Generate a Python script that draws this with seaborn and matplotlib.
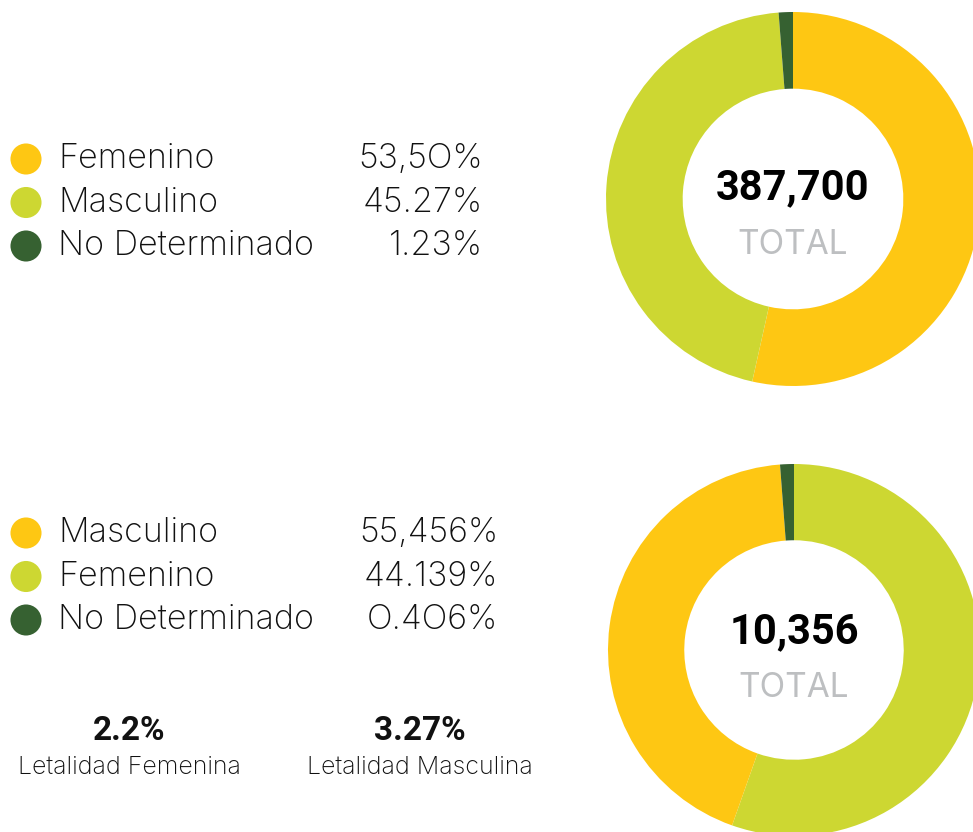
import matplotlib
matplotlib.use("Agg")
import matplotlib.pyplot as plt
import seaborn as sns

# data
top_labels = ['Femenino', 'Masculino', 'No Determinado']
top_pct = [53.50, 45.27, 1.23]
top_pct_text = ['53,5O%', '45.27%', '1.23%']
top_total = '387,700'

bottom_labels = ['Masculino', 'Femenino', 'No Determinado']
bottom_pct = [55.456, 44.139, 0.406]
bottom_pct_text = ['55,456%', '44.139%', 'O.4O6%']
bottom_total = '10,356'
# slices of the bottom ring as drawn (clockwise from 12 o'clock)
bottom_ring = [55.4, 43.4, 1.2]

letal_values = ['2.2%', '3.27%']
letal_labels = ['Letalidad Femenina', 'Letalidad Masculina']

YELLOW = '#FEC713'
LIME = '#CDD732'
DARK = '#366131'
top_colors = [YELLOW, LIME, DARK]
bottom_colors = [YELLOW, LIME, DARK]
bottom_ring_colors = [LIME, YELLOW, DARK]

sns.set_theme(style="white")
plt.rcParams['font.family'] = ['Inter', 'DejaVu Sans']
BOLD = ['Roboto', 'DejaVu Sans']

W, H = 973, 832
fig = plt.figure(figsize=(W / 100, H / 100), dpi=100)
fig.patch.set_facecolor('white')

# overlay axes in pixel coordinates for the legends
ov = fig.add_axes([0, 0, 1, 1])
ov.set_xlim(0, W)
ov.set_ylim(H, 0)
ov.axis('off')


def legend_block(labels, texts, colors, y0, x_right):
    ys = [y0 + i * 43.5 for i in range(len(labels))]
    sns.scatterplot(x=[26] * len(labels), y=ys, hue=labels, palette=colors,
                    s=500, edgecolor='none', legend=False, ax=ov)
    for lab, txt, y in zip(labels, texts, ys):
        ov.text(58, y, lab, fontsize=24.5, va='center', ha='left',
                color='#111111', fontweight='light')
        ov.text(x_right, y, txt, fontsize=24.5, va='center', ha='right',
                color='#111111', fontweight='light')


legend_block(top_labels, top_pct_text, top_colors, 159, 483)
legend_block(bottom_labels, bottom_pct_text, bottom_colors, 533, 498)

for xc, v, lab in zip([129, 420], letal_values, letal_labels):
    ov.text(xc, 731, v, fontsize=24, ha='center', va='center', fontweight='bold',
            color='#111111', family=BOLD)
    ov.text(xc, 767, lab, fontsize=18, ha='center', va='center',
            color='#111111', fontweight='light')


def donut(cx, cy, r, values, colors, total, dy):
    ax = fig.add_axes([(cx - r) / W, 1 - (cy + r) / H, 2 * r / W, 2 * r / H])
    ax.pie(values, colors=colors, startangle=90, counterclock=False,
           wedgeprops=dict(width=0.41, edgecolor='none', linewidth=0))
    ax.set_xlim(-1, 1)
    ax.set_ylim(-1, 1)
    ax.set_aspect('equal')
    ax.axis('off')
    ax.text(0, 0.06 + dy, total, ha='center', va='center', fontsize=30,
            fontweight='bold', color='#000000', family=BOLD)
    ax.text(0, -0.245 + dy, 'TOTAL', ha='center', va='center', fontsize=24,
            color='#BDBFC1')


donut(793, 199, 187, top_pct, top_colors, top_total, 0.0)
donut(794, 650, 186, bottom_ring, bottom_ring_colors, bottom_total, 0.04)

fig.savefig('out.png', dpi=100, facecolor='white')
